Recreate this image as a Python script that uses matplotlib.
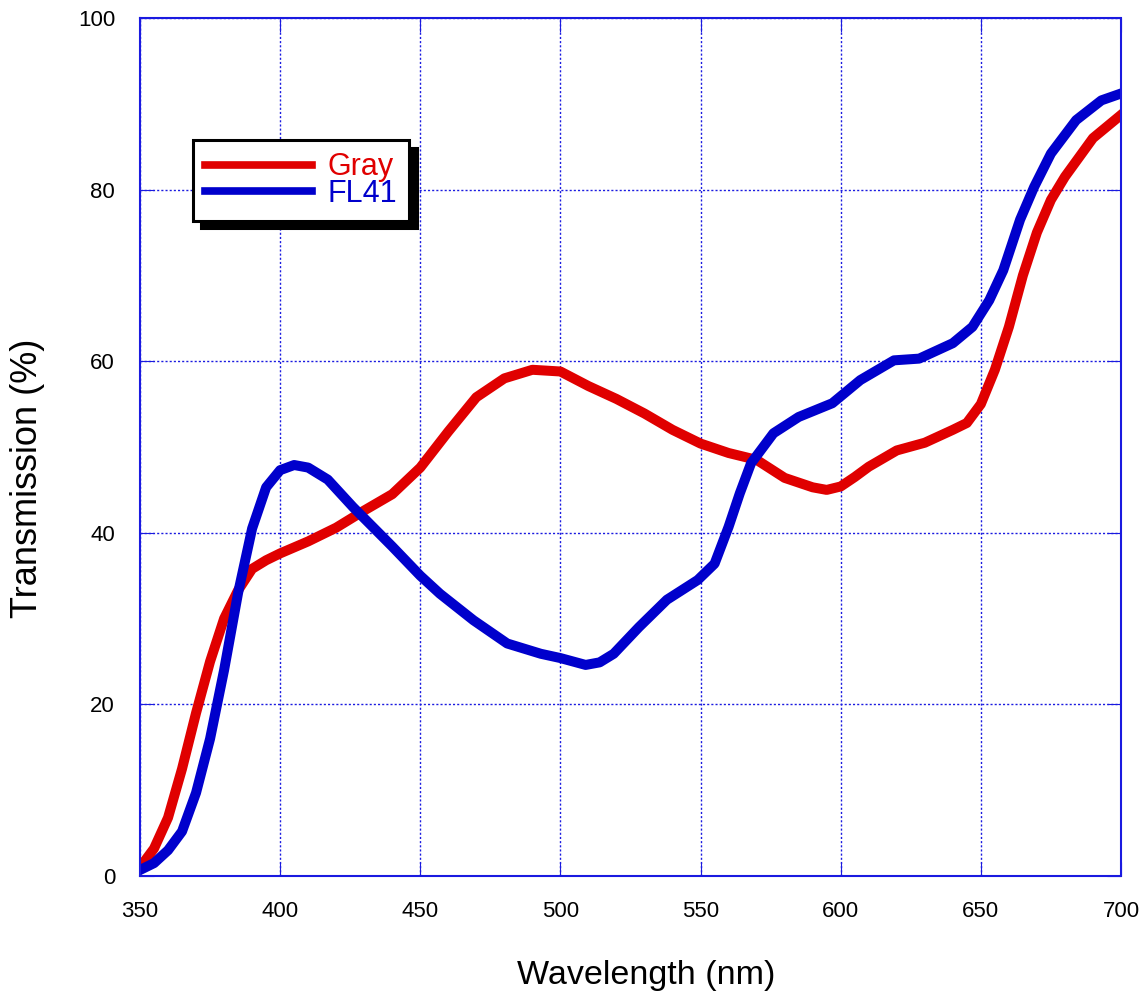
import numpy as np
import matplotlib.pyplot as plt

plt.rcParams['font.family'] = ['Liberation Sans', 'DejaVu Sans']

# values
wl_gray = [350, 355, 360, 365, 370, 375, 380, 385, 390, 395, 400, 410, 420, 430, 440,
           450, 460, 470, 480, 490, 500, 510, 520, 530, 540, 550, 560, 570, 580, 590,
           595, 600, 605, 610, 620, 630, 640, 645, 650, 655, 660, 665, 670, 675, 680,
           690, 700]
gray = [1.0, 3.2, 6.8, 12.5, 19.0, 25.0, 30.0, 33.3, 35.8, 36.8, 37.6, 39.0, 40.6, 42.6, 44.5,
        47.6, 51.8, 55.8, 58.0, 59.0, 58.8, 57.1, 55.6, 53.9, 52.0, 50.4, 49.3, 48.5, 46.4, 45.3,
        45.0, 45.4, 46.5, 47.7, 49.6, 50.5, 52.0, 52.8, 55.0, 59.0, 64.0, 70.0, 75.0, 78.8, 81.5,
        86.0, 88.7]

wl_fl41 = [350, 355, 360, 365, 370, 375, 380, 385, 390, 395, 400, 405, 410, 417, 426,
           440, 450, 457, 469, 481, 493, 500, 509, 514, 519, 528, 538, 549, 555, 560,
           564, 568, 576, 585, 597, 607, 619, 628, 640, 647, 653, 658, 664, 669, 675,
           684, 693, 700]
fl41 = [0.7, 1.5, 3.0, 5.2, 9.7, 16.0, 24.0, 33.0, 40.5, 45.3, 47.3, 47.9, 47.6, 46.2, 43.0,
        38.4, 35.0, 32.9, 29.8, 27.1, 25.9, 25.4, 24.6, 24.9, 25.9, 29.0, 32.2, 34.5, 36.4, 40.7,
        44.6, 48.1, 51.6, 53.5, 55.1, 57.8, 60.1, 60.3, 62.1, 64.0, 67.1, 70.6, 76.5, 80.3, 84.2,
        88.1, 90.4, 91.2]

grid_blue = '#1a1ae0'
red = '#e00000'
blue = '#0000cc'

fig = plt.figure(figsize=(11.44, 9.96), dpi=100)
ax = fig.add_axes([140 / 1144, 1 - 876 / 996, 981 / 1144, 858 / 996])

ax.plot(wl_gray, gray, color=red, lw=7.2, label='Gray', solid_joinstyle='round')
ax.plot(wl_fl41, fl41, color=blue, lw=7.2, label='FL41', solid_joinstyle='round')

ax.set_xlim(350, 700)
ax.set_ylim(0, 100)
ax.set_xticks(np.arange(350, 701, 50))
ax.set_yticks(np.arange(0, 101, 20))
ax.grid(True, color=grid_blue, linestyle=(0, (1.5, 1.5)), linewidth=1.0)
for s in ax.spines.values():
    s.set_color(grid_blue)
    s.set_linewidth(1.5)
    s.set_linestyle((0, (2, 1)))
ax.tick_params(direction='in', length=10, color=grid_blue, labelsize=16,
               top=True, right=True, pad=18)

ax.set_xlabel('Wavelength (nm)', fontsize=24.5)
ax.set_ylabel('Transmission (%)', fontsize=26)
ax.xaxis.set_label_coords(0.516, -0.098)
ax.yaxis.set_label_coords(-0.097, 0.463)

leg = ax.legend(loc='upper left', bbox_to_anchor=(53 / 981, 1 - 122 / 858),
                borderaxespad=0, fontsize=22, frameon=True, fancybox=False,
                edgecolor='black', handlelength=3.5, handletextpad=0.5,
                labelspacing=-0.12, borderpad=0.4,
                shadow={'color': 'black', 'alpha': 1.0, 'ox': 5.5, 'oy': -5.5})
leg.get_frame().set_linewidth(2.2)
leg.get_frame().set_alpha(1)
for line in leg.get_lines():
    line.set_linewidth(5.5)
for txt, c in zip(leg.get_texts(), [red, blue]):
    txt.set_color(c)

fig.savefig('out.png', dpi=100)
